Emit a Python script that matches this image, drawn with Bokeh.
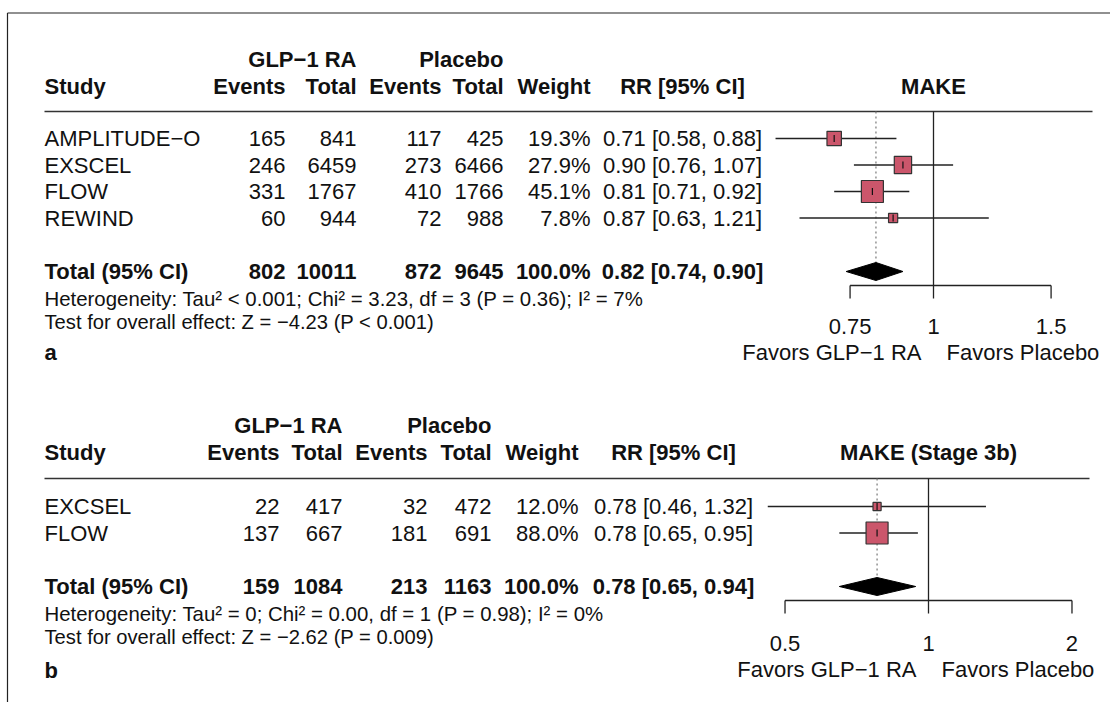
import math
from bokeh.plotting import figure
from bokeh.models import Range1d, LogScale, ColumnDataSource
from bokeh.embed import file_html
from bokeh.resources import INLINE
from bokeh.core.properties import value

# ---------------- data ----------------
# panel a: MAKE
studies_a = ["AMPLITUDE\u2212O", "EXSCEL", "FLOW", "REWIND"]
glp_events_a = [165, 246, 331, 60]
glp_total_a = [841, 6459, 1767, 944]
pbo_events_a = [117, 273, 410, 72]
pbo_total_a = [425, 6466, 1766, 988]
weight_a = [19.3, 27.9, 45.1, 7.8]
rr_a = [0.71, 0.90, 0.81, 0.87]
lo_a = [0.58, 0.76, 0.71, 0.63]
hi_a = [0.88, 1.07, 0.92, 1.21]
tot_a = [802, 10011, 872, 9645, 100.0]
tot_rr_a = [0.82, 0.74, 0.90]
het_a = "Heterogeneity: Tau\u00b2 < 0.001; Chi\u00b2 = 3.23, df = 3 (P = 0.36); I\u00b2 = 7%"
test_a = "Test for overall effect: Z = \u22124.23 (P < 0.001)"
ticks_a = [0.75, 1, 1.5]
tick_labels_a = ["0.75", "1", "1.5"]
title_a = "MAKE"

# panel b: MAKE (Stage 3b)
studies_b = ["EXCSEL", "FLOW"]
glp_events_b = [22, 137]
glp_total_b = [417, 667]
pbo_events_b = [32, 181]
pbo_total_b = [472, 691]
weight_b = [12.0, 88.0]
rr_b = [0.78, 0.78]
lo_b = [0.46, 0.65]
hi_b = [1.32, 0.95]
tot_b = [159, 1084, 213, 1163, 100.0]
tot_rr_b = [0.78, 0.65, 0.94]
het_b = "Heterogeneity: Tau\u00b2 = 0; Chi\u00b2 = 0.00, df = 1 (P = 0.98); I\u00b2 = 0%"
test_b = "Test for overall effect: Z = \u22122.62 (P = 0.009)"
ticks_b = [0.5, 1, 2]
tick_labels_b = ["0.5", "1", "2"]
title_b = "MAKE (Stage 3b)"

favors = ["Favors GLP\u22121 RA", "Favors Placebo"]
col_heads = ["Study", "Events", "Total", "Events", "Total", "Weight", "RR [95% CI]"]
group_heads = ["GLP\u22121 RA", "Placebo"]

# ---------------- layout ----------------
W, H = 1110, 702
OX, OY = 0, 0
FONT = "Liberation Sans"
TXT = "#111111"
SQ_FILL = "#cb566b"

def X(v):
    return v - OX

def Y(v):
    return v - OY

p = figure(width=W, height=H, x_range=Range1d(0, W), y_range=Range1d(H, 0),
           output_backend="svg", toolbar_location=None, min_border=0,
           x_axis_location=None, y_axis_location=None)
p.grid.visible = False
p.outline_line_color = None
p.background_fill_color = "white"
p.border_fill_color = "white"

def rr_range(one_x, px_per_ln):
    one = X(one_x)
    return Range1d(math.exp(-one / px_per_ln), math.exp((W - one) / px_per_ln))

panels = [
    dict(name="ra", one_x=933, ppl=290,
         grp=59, hdr=86, line=111, row0=138, row_h=26.5, total=271, het=298, test=321, lab=352,
         axis=285, ticklab=326, fav=352,
         cols=[44, 285, 356, 441, 503, 590, 682], line_end=1092,
         studies=studies_a, ge=glp_events_a, gt=glp_total_a, pe=pbo_events_a, pt=pbo_total_a,
         w=weight_a, rr=rr_a, lo=lo_a, hi=hi_a, tot=tot_a, trr=tot_rr_a,
         hettxt=het_a, testtxt=test_a, ticks=ticks_a, tlabels=tick_labels_a, title=title_a, label="a"),
    dict(name="rb", one_x=928, ppl=207,
         grp=425, hdr=452, line=478, row0=506, row_h=26.5, total=586, het=613, test=636, lab=670,
         axis=600, ticklab=643, fav=669,
         cols=[44, 279, 342, 427, 491, 578, 673], line_end=1089,
         studies=studies_b, ge=glp_events_b, gt=glp_total_b, pe=pbo_events_b, pt=pbo_total_b,
         w=weight_b, rr=rr_b, lo=lo_b, hi=hi_b, tot=tot_b, trr=tot_rr_b,
         hettxt=het_b, testtxt=test_b, ticks=ticks_b, tlabels=tick_labels_b, title=title_b, label="b"),
]

p.extra_x_ranges = {c["name"]: rr_range(c["one_x"], c["ppl"]) for c in panels}
p.extra_x_scales = {c["name"]: LogScale() for c in panels}

def txt(xs, ys, texts, align="left", bold=False, size="22px", rname="default", x_offset=0):
    src = ColumnDataSource(dict(x=list(xs), y=list(ys), t=list(texts)))
    p.text("x", "y", text="t", source=src, text_align=align, text_baseline="middle",
           text_font=value(FONT), text_font_size=size,
           text_font_style="bold" if bold else "normal", text_color=TXT,
           x_offset=x_offset, x_range_name=rname)

# frame of the figure
p.segment(x0=[X(7)], y0=[Y(12.5)], x1=[W], y1=[Y(12.5)], line_color="#222222", line_width=1.2)
p.segment(x0=[X(7)], y0=[Y(12.5)], x1=[X(7)], y1=[H], line_color="#222222", line_width=1.2)

for c in panels:
    cols = c["cols"]
    n = len(c["studies"])
    ys = [Y(c["row0"] + i * c["row_h"]) for i in range(n)]
    rn = c["name"]

    # headers
    txt([X(cols[2]), X(cols[4])], [Y(c["grp"])] * 2, group_heads, align="right", bold=True)
    txt([X(cols[0])], [Y(c["hdr"])], [col_heads[0]], bold=True)
    txt([X(v) for v in cols[1:6]], [Y(c["hdr"])] * 5, col_heads[1:6], align="right", bold=True)
    txt([X(cols[6])], [Y(c["hdr"])], [col_heads[6]], align="center", bold=True)
    txt([1], [Y(c["hdr"])], [c["title"]], align="center", bold=True, rname=rn)

    # header rule
    p.segment(x0=[X(cols[0])], y0=[Y(c["line"])], x1=[X(c["line_end"])], y1=[Y(c["line"])],
              line_color="#333333", line_width=1.6)

    # study rows
    txt([X(cols[0])] * n, ys, c["studies"])
    for k, key in enumerate(["ge", "gt", "pe", "pt"]):
        txt([X(cols[k + 1])] * n, ys, [str(v) for v in c[key]], align="right")
    txt([X(cols[5])] * n, ys, [f"{v:.1f}%" for v in c["w"]], align="right")
    txt([X(cols[6])] * n, ys, [f"{r:.2f} [{l:.2f}, {h:.2f}]" for r, l, h in zip(c["rr"], c["lo"], c["hi"])],
        align="center")

    # total row
    yt = Y(c["total"])
    txt([X(cols[0])], [yt], ["Total (95% CI)"], bold=True)
    txt([X(v) for v in cols[1:5]], [yt] * 4, [str(v) for v in c["tot"][:4]], align="right", bold=True)
    txt([X(cols[5])], [yt], [f"{c['tot'][4]:.1f}%"], align="right", bold=True)
    r0, l0, h0 = c["trr"]
    txt([X(cols[6])], [yt], [f"{r0:.2f} [{l0:.2f}, {h0:.2f}]"], align="center", bold=True)

    # heterogeneity / test / panel label
    txt([X(cols[0])], [Y(c["het"])], [c["hettxt"]], size="20.4px")
    txt([X(cols[0])], [Y(c["test"])], [c["testtxt"]], size="20.2px")
    txt([X(cols[0])], [Y(c["lab"])], [c["label"]], bold=True)

    # forest: reference line at 1 and dotted summary line
    ax = Y(c["axis"])
    p.segment(x0=[1], y0=[Y(c["line"])], x1=[1], y1=[ax], line_color="#222222", line_width=1.3,
              x_range_name=rn)
    p.segment(x0=[r0], y0=[Y(c["line"])], x1=[r0], y1=[yt - 9], line_color="#777777", line_width=1.2,
              line_dash="2 3", x_range_name=rn)

    # CIs
    p.segment(x0=c["lo"], y0=ys, x1=c["hi"], y1=ys, line_color="#222222", line_width=1.3, x_range_name=rn)
    wmax = max(c["w"])
    sizes = [22 * math.sqrt(w / wmax) for w in c["w"]]
    p.scatter(x=c["rr"], y=ys, size=sizes, marker="square", fill_color=SQ_FILL, line_color="#333333",
              line_width=1.2, x_range_name=rn)
    p.scatter(x=c["rr"], y=ys, size=7, marker="dash", angle=math.pi / 2, line_color="#111111",
              line_width=1.2, x_range_name=rn)

    # summary diamond
    p.patch(x=[l0, r0, h0, r0], y=[yt, yt - 9, yt, yt + 9], fill_color="black", line_color="black",
            line_width=1, x_range_name=rn)

    # axis
    t = c["ticks"]
    p.segment(x0=[t[0]], y0=[ax], x1=[t[-1]], y1=[ax], line_color="#222222", line_width=1.3, x_range_name=rn)
    p.segment(x0=t, y0=[ax] * len(t), x1=t, y1=[ax + 13] * len(t), line_color="#222222", line_width=1.3,
              x_range_name=rn)
    txt(t, [Y(c["ticklab"])] * len(t), c["tlabels"], align="center", rname=rn)
    txt([1], [Y(c["fav"])], [favors[0]], align="right", rname=rn, x_offset=-12)
    txt([1], [Y(c["fav"])], [favors[1]], align="left", rname=rn, x_offset=13)

open("out.html", "w").write(file_html(p, INLINE))
